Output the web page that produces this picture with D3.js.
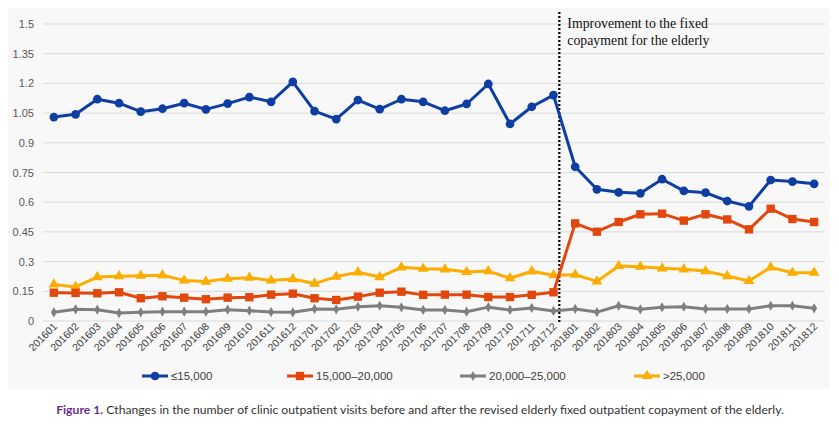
<!DOCTYPE html>
<html><head><meta charset="utf-8">
<script src="https://cdn.jsdelivr.net/npm/d3@7"></script>
<style>body{margin:0;background:#fff}svg{display:block}</style>
</head><body>
<script>
const months = ["201601","201602","201603","201604","201605","201606","201607","201608","201609","201610","201611","201612",
"201701","201702","201703","201704","201705","201706","201707","201708","201709","201710","201711","201712",
"201801","201802","201803","201804","201805","201806","201807","201808","201809","201810","201811","201812"];
const le15000 = [1.03,1.044,1.12,1.10,1.057,1.072,1.10,1.069,1.098,1.131,1.107,1.208,
1.06,1.02,1.116,1.07,1.12,1.107,1.062,1.096,1.197,0.995,1.082,1.141,
0.779,0.665,0.65,0.645,0.716,0.657,0.648,0.606,0.579,0.712,0.704,0.693];
const s15to20 = [0.143,0.142,0.14,0.145,0.115,0.125,0.118,0.11,0.118,0.12,0.133,0.138,
0.115,0.106,0.123,0.143,0.148,0.132,0.133,0.133,0.121,0.121,0.132,0.145,
0.493,0.451,0.5,0.539,0.542,0.507,0.539,0.513,0.463,0.567,0.515,0.50];
const s20to25 = [0.044,0.059,0.057,0.04,0.044,0.047,0.047,0.047,0.057,0.052,0.045,0.044,
0.061,0.059,0.072,0.077,0.069,0.056,0.056,0.047,0.07,0.056,0.066,0.051,
0.061,0.045,0.077,0.059,0.069,0.072,0.061,0.061,0.061,0.077,0.077,0.064];
const gt25000 = [0.185,0.172,0.222,0.226,0.229,0.231,0.205,0.199,0.214,0.219,0.205,0.212,
0.189,0.224,0.246,0.222,0.271,0.264,0.261,0.248,0.252,0.216,0.251,0.231,
0.234,0.2,0.278,0.274,0.266,0.261,0.252,0.227,0.202,0.271,0.244,0.244];
const seriesNames = ["≤15,000","15,000–20,000","20,000–25,000",">25,000"];
const yTicks = [0,0.15,0.3,0.45,0.6,0.75,0.9,1.05,1.2,1.35,1.5];
const annotationLines = ["Improvement to the fixed","copayment for the elderly"];
const policyMonth = "201712";

const W=839,H=425;
const svg=d3.select("body").append("svg").attr("width",W).attr("height",H);
svg.append("rect").attr("x",8).attr("y",8).attr("width",822).attr("height",381).attr("fill","#f8f8f8");

const x=d3.scaleBand().domain(months).range([43,825]);
const y=d3.scaleLinear().domain([0,1.5]).range([321,24]);
const cx=m=>x(m)+x.bandwidth()/2;

// grid
svg.append("g").selectAll("line").data(yTicks).join("line")
 .attr("x1",43).attr("x2",825).attr("y1",d=>y(d)).attr("y2",d=>y(d))
 .attr("stroke","#d9d9d9").attr("stroke-width",1);
// y labels
svg.append("g").selectAll("text").data(yTicks).join("text")
 .attr("x",34).attr("y",d=>y(d)+4).attr("text-anchor","end")
 .attr("font-family","Liberation Sans, Arial, sans-serif").attr("font-size",11).attr("fill","#595959")
 .text(d=>d===0?"0":String(d));
// x labels
svg.append("g").selectAll("text").data(months).join("text")
 .attr("transform",d=>`translate(${cx(d)+4},${327}) rotate(-45)`)
 .attr("text-anchor","end")
 .attr("font-family","Liberation Sans, Arial, sans-serif").attr("font-size",10.5).attr("fill","#404040")
 .text(d=>d);

// policy line
const px=cx(policyMonth)+x.bandwidth()*0.27;
svg.append("line").attr("x1",px).attr("x2",px).attr("y1",12).attr("y2",322)
 .attr("stroke","#000").attr("stroke-width",2.2).attr("stroke-dasharray","2,2");
svg.append("g").selectAll("text").data(annotationLines).join("text")
 .attr("x",px+8).attr("y",(d,i)=>28+i*17)
 .attr("font-family","Liberation Serif, Times New Roman, serif").attr("font-size",13.8).attr("fill","#111")
 .text(d=>d);

const series=[
 {name:seriesNames[0],vals:le15000,color:"#0f3ea3",sym:d3.symbolCircle,size:60},
 {name:seriesNames[1],vals:s15to20,color:"#e2480e",sym:d3.symbolSquare,size:70},
 {name:seriesNames[2],vals:s20to25,color:"#7f7f7f",sym:d3.symbolDiamond,size:30},
 {name:seriesNames[3],vals:gt25000,color:"#fdac00",sym:d3.symbolTriangle,size:50}
];
const line=d3.line().x((d,i)=>cx(months[i])).y(d=>y(d));
// draw order: gray, yellow, orange, blue
[2,3,1,0].forEach(k=>{
 const s=series[k];
 const g=svg.append("g");
 g.append("path").attr("d",line(s.vals)).attr("fill","none").attr("stroke",s.color).attr("stroke-width",3).attr("stroke-linejoin","round");
 g.selectAll("path.m").data(s.vals).join("path").attr("class","m")
  .attr("transform",(d,i)=>`translate(${cx(months[i])},${y(d)})`)
  .attr("d",d3.symbol().type(s.sym).size(s.size)).attr("fill",s.color);
});

// legend
const legX=[142,287,460,634];
series.forEach((s,i)=>{
 const g=svg.append("g").attr("transform",`translate(${legX[i]},376)`);
 g.append("line").attr("x1",0).attr("x2",26).attr("stroke",s.color).attr("stroke-width",3);
 g.append("path").attr("transform","translate(13,0)").attr("d",d3.symbol().type(s.sym).size(s.size)).attr("fill",s.color);
 g.append("text").attr("x",29).attr("y",4).attr("font-family","Liberation Sans, Arial, sans-serif").attr("font-size",11.5).attr("fill","#404040").text(s.name);
});

// caption
const cap=svg.append("text").attr("x",420).attr("y",414).attr("text-anchor","middle")
 .attr("font-family","Lato, sans-serif").attr("font-size",12.2).attr("fill","#333");
cap.append("tspan").attr("fill","#6b2c91").attr("font-weight","bold").text("Figure 1.");
cap.append("tspan").text(" Cthanges in the number of clinic outpatient visits before and after the revised elderly fixed outpatient copayment of the elderly.");
</script>
</body></html>
